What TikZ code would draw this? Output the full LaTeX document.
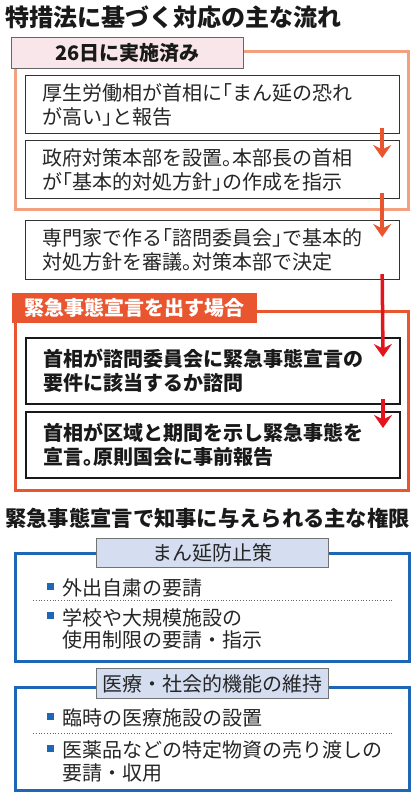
\documentclass[tikz,border=0pt]{standalone}
\usepackage{fontspec}
\setmainfont{Noto Sans CJK JP}
\newfontfamily\stepfont[RawFeature=+halt]{Noto Sans CJK JP}
\usepackage{tikz}
\usetikzlibrary{arrows.meta, positioning}
\definecolor{donesalmon}{HTML}{F3A07F}
\definecolor{donepink}{HTML}{F8E6EA}
\definecolor{alertred}{HTML}{E9552F}
\definecolor{arroworange}{HTML}{E9552F}
\definecolor{arrowred}{HTML}{E3141C}
\definecolor{powerblue}{HTML}{1D67B6}
\definecolor{labelblue}{HTML}{D5DEF0}
\newcommand{\sqmark}{\llap{\textcolor{powerblue}{\rule[6pt]{7pt}{7pt}}\hspace{8pt}}}

\begin{document}
\begin{tikzpicture}[x=1pt, y=-1pt,
                heading/.style={anchor=west, inner sep=0pt, text=black!90, font=\fontsize{24}{28}\selectfont\bfseries},
                subheading/.style={heading, font=\fontsize{21.3}{26}\selectfont\bfseries},
                groupframe/.style={line width=3pt},
                grouptag/.style={anchor=north west, inner sep=0pt, minimum width=232pt, minimum height=31pt, font=\fontsize{20}{24}\selectfont\bfseries},
                bluetag/.style={grouptag, fill=labelblue, draw=black!55, line width=0.8pt, text=black!85, font=\fontsize{20}{24}\selectfont},
                stepbox/.style={anchor=north west, draw=black!80, line width=1.2pt, fill=white, minimum width=374pt, text width=340pt, inner xsep=17pt, align=left, text=black!85, font=\stepfont\fontsize{20}{24}\selectfont},
                keybox/.style={stepbox, draw=black!90, line width=2pt, text=black!90, font=\stepfont\fontsize{20}{24}\selectfont\bfseries},
                edge/.style={line width=3.5pt, -{Stealth[length=13pt, width=18pt, inset=4.5pt]}},
                powitem/.style={anchor=west, inner sep=0pt, align=left, text=black!85, font=\fontsize{20}{22.5}\selectfont},
                divider/.style={dotted, line width=0.8pt, black!60}
            ]
            \useasboundingbox (0,0) rectangle (416,798);
            \node[heading] (title) at (5,17) {特措法に基づく対応の主な流れ};

            \draw[groupframe, donesalmon] (15.5,51) rectangle (408,209);
            \node[grouptag, fill=donepink, draw=black!60, line width=0.8pt, text=black!90] (done) at (11,37) {26日に実施済み};
            \node[stepbox, minimum height=58pt] (s1) at (25,75) {厚生労働相が首相に「まん延の恐れ\\が高い」と報告};
            \node[stepbox, minimum height=58pt] (s2) at (25,140) {政府対策本部を設置。本部長の首相\\が「基本的対処方針」の作成を指示};
            \node[stepbox, minimum height=59pt] (s3) at (25,220) {専門家で作る「諮問委員会」で基本的\\対処方針を審議。対策本部で決定};

            \draw[groupframe, alertred] (15,311) rectangle (408,490);
            \node[grouptag, fill=alertred, text=white, minimum width=245pt, minimum height=30pt] (alert) at (12,293) {緊急事態宣言を出す場合};
            \node[keybox, minimum height=66pt] (s4) at (25,337) {首相が諮問委員会に緊急事態宣言の\\要件に該当するか諮問};
            \node[keybox, minimum height=66pt] (s5) at (25,411) {首相が区域と期間を示し緊急事態を\\宣言。原則国会に事前報告};

            \draw[edge, arroworange] ([xshift=-18pt, yshift=6pt]s1.south east) -- ([xshift=-18pt, yshift=-18pt]s2.north east);
            \draw[edge, arroworange] ([xshift=-18pt, yshift=6pt]s2.south east) -- ([xshift=-18pt, yshift=-17pt]s3.north east);
            \draw[edge, arrowred] ([xshift=-18pt, yshift=6pt]s3.south east) -- ([xshift=-18pt, yshift=-20pt]s4.north east);
            \draw[edge, arrowred] ([xshift=-18pt, yshift=6pt]s4.south east) -- ([xshift=-18pt, yshift=-17pt]s5.north east);

            \node[subheading] (powers) at (5,518) {緊急事態宣言で知事に与えられる主な権限};

            \draw[groupframe, powerblue] (15,553) rectangle (409,661);
            \node[bluetag, minimum height=29pt] (curb) at (96,538) {まん延防止策};
            \node[powitem] (m1) at (62,588) {\sqmark 外出自粛の要請};
            \draw[divider] (33,600) -- (392,600);
            \node[powitem] (m2) at (62,629) {\sqmark 学校や大規模施設の\\使用制限の要請・指示};

            \draw[groupframe, powerblue] (15,687) rectangle (409,790);
            \node[bluetag, minimum height=30pt] (care) at (96,668) {医療・社会的機能の維持};
            \node[powitem] (m3) at (62,718) {\sqmark 臨時の医療施設の設置};
            \draw[divider] (33,733) -- (392,733);
            \node[powitem] (m4) at (62,761.5) {\sqmark 医薬品などの特定物資の売り渡しの\\要請・収用};
            \end{tikzpicture}
\end{document}
